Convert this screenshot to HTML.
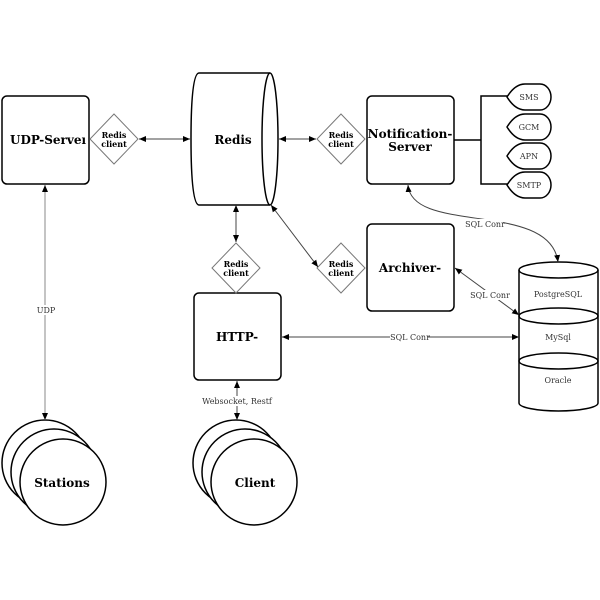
<!DOCTYPE html>
<html><head><style>body{margin:0;background:#fff}svg{display:block}</style></head><body>
<svg width="600" height="600" viewBox="0 0 600 600" xmlns="http://www.w3.org/2000/svg" font-family="DejaVu Serif, serif">
<defs>
<marker id="a" markerWidth="8" markerHeight="8" refX="7" refY="4" orient="auto-start-reverse" markerUnits="userSpaceOnUse"><path d="M0,1 L7,4 L0,7 Z" fill="#000"/></marker>
</defs>
<g fill="none" stroke="#000" stroke-width="1.5">
<rect x="2" y="96" width="87" height="88" rx="5"/>
<rect x="367" y="96" width="87" height="88" rx="5"/>
<rect x="367" y="224" width="87" height="87" rx="5"/>
<rect x="194" y="293" width="87" height="87" rx="5"/>
<!-- Redis cylinder -->
<path d="M199,73 L270,73 M199,205 L270,205 M199,73 Q191,73 191,139 Q191,205 199,205"/>
<ellipse cx="270" cy="139" rx="8" ry="66"/>
<!-- DB -->
<path d="M519,270 L519,403 M598,270 L598,403"/>
<path d="M519,403 A39.5,8 0 0 0 598,403"/>
<ellipse cx="558.5" cy="270" rx="39.5" ry="8"/>
<ellipse cx="558.5" cy="316" rx="39.5" ry="8"/>
<ellipse cx="558.5" cy="361" rx="39.5" ry="8"/>
<!-- bracket -->
<path d="M454,140 L481,140 M508,96 L481,96 L481,184 L508,184"/>
<!-- tags -->
<g fill="#fff">
<path d="M507,97 Q515,84 525,84 L540,84 A11,13 0 0 1 540,110 L525,110 Q515,110 507,97Z"/>
<path d="M507,127 Q515,114 525,114 L540,114 A11,13 0 0 1 540,140 L525,140 Q515,140 507,127Z"/>
<path d="M507,156 Q515,143 525,143 L540,143 A11,13 0 0 1 540,169 L525,169 Q515,169 507,156Z"/>
<path d="M507,185 Q515,172 525,172 L540,172 A11,13 0 0 1 540,198 L525,198 Q515,198 507,185Z"/>
<circle cx="45" cy="463" r="43"/><circle cx="54" cy="472" r="43"/><circle cx="63" cy="482" r="43"/>
<circle cx="236" cy="463" r="43"/><circle cx="245" cy="472" r="43"/><circle cx="254" cy="482" r="43"/>
</g>
</g>
<g fill="#fff" stroke="#777" stroke-width="1">
<path d="M114,114 L138,139 L114,164 L90,139Z"/>
<path d="M341,114 L365,139 L341,164 L317,139Z"/>
<path d="M341,243 L365,268 L341,293 L317,268Z"/>
<path d="M236,243 L260,268 L236,293 L212,268Z"/>
</g>
<g fill="none" stroke="#444" stroke-width="1">
<path d="M139,139 L190,139" marker-start="url(#a)" marker-end="url(#a)"/>
<path d="M279,139 L316,139" marker-start="url(#a)" marker-end="url(#a)"/>
<path d="M271,205 L318,267" marker-start="url(#a)" marker-end="url(#a)"/>
<path d="M236,205 L236,242" marker-start="url(#a)" marker-end="url(#a)"/>
<path d="M45,185 L45,420" stroke="#888" marker-start="url(#a)" marker-end="url(#a)"/>
<path d="M237,381 L237,420" marker-start="url(#a)" marker-end="url(#a)"/>
<path d="M282,337 L519,337" marker-start="url(#a)" marker-end="url(#a)"/>
<path d="M455,268 L519,315" marker-start="url(#a)" marker-end="url(#a)"/>
<path d="M408,185 C412,235 550,200 558,262" marker-start="url(#a)" marker-end="url(#a)"/>
</g>
<g font-size="8" fill="#333" text-anchor="middle">
<rect x="30" y="305" width="30" height="10" fill="#fff"/>
<text x="46" y="313">UDP</text>
<rect x="202" y="396" width="70" height="10" fill="#fff"/>
<text x="237" y="404">Websocket, Restf</text>
<rect x="390" y="332" width="38" height="10" fill="#fff"/>
<text x="410" y="340">SQL Conr</text>
<rect x="471" y="290" width="38" height="10" fill="#fff"/>
<text x="490" y="298">SQL Conr</text>
<rect x="467" y="219" width="36" height="10" fill="#fff"/>
<text x="485" y="227">SQL Conr</text>
<text x="529" y="100">SMS</text>
<text x="529" y="130">GCM</text>
<text x="529" y="159">APN</text>
<text x="529" y="188">SMTP</text>
<text x="558" y="297">PostgreSQL</text>
<text x="558" y="340">MySql</text>
<text x="558" y="383">Oracle</text>
</g>
<g font-size="8" font-weight="bold" text-anchor="middle">
<text x="114" y="138">Redis</text><text x="114" y="147">client</text>
<text x="341" y="138">Redis</text><text x="341" y="147">client</text>
<text x="341" y="267">Redis</text><text x="341" y="276">client</text>
<text x="236" y="267">Redis</text><text x="236" y="276">client</text>
</g>
<g font-size="12" font-weight="bold">
<text x="10" y="144">UDP-Serve<tspan>ı</tspan></text>
<text x="233" y="144" text-anchor="middle">Redis</text>
<text x="410" y="138" text-anchor="middle">Notification-</text>
<text x="410" y="151" text-anchor="middle">Server</text>
<text x="410" y="272" text-anchor="middle">Archiver-</text>
<text x="237" y="341" text-anchor="middle">HTTP-</text>
<text x="62" y="487" text-anchor="middle">Stations</text>
<text x="255" y="487" text-anchor="middle">Client</text>
</g>
</svg>
</body></html>
